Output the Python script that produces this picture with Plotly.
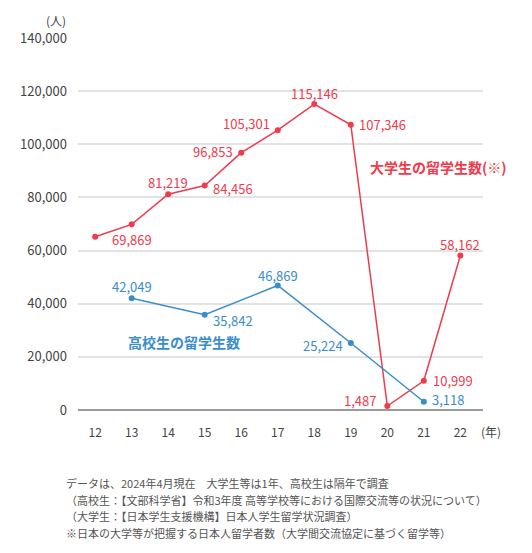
import plotly.graph_objects as go

years = [12, 13, 14, 15, 16, 17, 18, 19, 20, 21, 22]
univ_students = [65200, 69869, 81219, 84456, 96853, 105301, 115146, 107346, 1487, 10999, 58162]
univ_labels = [None, "69,869", "81,219", "84,456", "96,853", "105,301", "115,146", "107,346", "1,487", "10,999", "58,162"]

hs_years = [13, 15, 17, 19, 21]
hs_students = [42049, 35842, 46869, 25224, 3118]
hs_labels = ["42,049", "35,842", "46,869", "25,224", "3,118"]

y_ticks = [0, 20000, 40000, 60000, 80000, 100000, 120000, 140000]

footnotes = [
    "データは、2024年4月現在　大学生等は1年、高校生は隔年で調査",
    "（高校生：【文部科学省】令和3年度 高等学校等における国際交流等の状況について）",
    "（大学生：【日本学生支援機構】日本人学生留学状況調査）",
    "※日本の大学等が把握する日本人留学者数（大学間交流協定に基づく留学等）",
]

RED = "#ef3b4c"
BLUE = "#3a8dcb"
FONT = "Noto Sans CJK JP"

# plot area on screen (page has an 8px body margin): x 75..483, y 38..410
def px(x):
    return (x - 75) / 408

def py(y):
    return (410 - y) / 372

fig = go.Figure()
fig.add_trace(go.Scatter(x=years, y=univ_students, mode="lines+markers",
                         line=dict(color=RED, width=1.5),
                         marker=dict(color=RED, size=6), cliponaxis=False,
                         showlegend=False))
fig.add_trace(go.Scatter(x=hs_years, y=hs_students, mode="lines+markers",
                         line=dict(color=BLUE, width=1.5),
                         marker=dict(color=BLUE, size=6), cliponaxis=False,
                         showlegend=False))

# label placement: (xanchor, xshift, yshift)
univ_pos = [None, ("center", 0, -15), ("center", 0, 12), ("left", 6, -3),
            ("right", -6, 1), ("right", -6, 7), ("center", 0, 11),
            ("left", 6, 0), ("right", -9, 6), ("left", 7, 0), ("center", 0, 11)]
hs_pos = [("center", 0, 12), ("left", 6, -6), ("center", 0, 10),
          ("right", -6, -3), ("left", 6, 2)]

annotations = []
for x, y, t, p in zip(years, univ_students, univ_labels, univ_pos):
    if t is None:
        continue
    annotations.append(dict(x=x, y=y, text=t, showarrow=False, xanchor=p[0],
                            yanchor="middle", xshift=p[1], yshift=p[2],
                            font=dict(color=RED, size=13, family=FONT)))
for x, y, t, p in zip(hs_years, hs_students, hs_labels, hs_pos):
    annotations.append(dict(x=x, y=y, text=t, showarrow=False, xanchor=p[0],
                            yanchor="middle", xshift=p[1], yshift=p[2],
                            font=dict(color=BLUE, size=13, family=FONT)))

def note(x, y, text, color, size, bold=False, anchor="center"):
    return dict(xref="paper", yref="paper", x=px(x), y=py(y),
                text="<b>%s</b>" % text if bold else text, showarrow=False,
                xanchor=anchor, yanchor="middle",
                font=dict(color=color, size=size, family=FONT))

annotations += [
    note(438, 167, "大学生の留学生数(※)", RED, 14, bold=True),
    note(182, 342, "高校生の留学生数", BLUE, 14, bold=True),
    note(53, 20, "(人)", "#444", 12),
    note(491, 431, "(年)", "#444", 12),
]
for i, line in enumerate(footnotes):
    annotations.append(note(61, 483 + i * 16.7, line, "#555", 11, anchor="left"))

fig.update_layout(
    width=524, height=545,
    margin=dict(l=67, r=49, t=30, b=143),
    paper_bgcolor="white", plot_bgcolor="white",
    font=dict(family=FONT, color="#444"),
    annotations=annotations,
    xaxis=dict(range=[11.53, 22.62], tickvals=years, showgrid=False, zeroline=False,
               showline=False, ticks="", ticklabelstandoff=14,
               tickfont=dict(size=12, color="#444"), fixedrange=True),
    yaxis=dict(range=[0, 140000], tickvals=y_ticks, tickformat=",d",
               gridcolor="#e3e3e3", gridwidth=1.5, zeroline=True,
               zerolinecolor="#9a9a9a", zerolinewidth=2, showline=False,
               ticks="", ticklabelstandoff=10,
               tickfont=dict(size=13, color="#444"), fixedrange=True),
)

fig.write_html("out.html")
